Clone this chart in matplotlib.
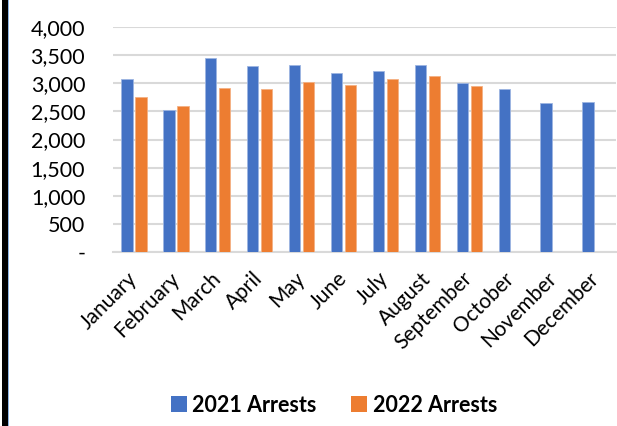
import matplotlib
matplotlib.use("Agg")
import matplotlib.pyplot as plt
from matplotlib.patches import Rectangle
import numpy as np

months = ["January", "February", "March", "April", "May", "June", "July",
          "August", "September", "October", "November", "December"]
arrests_2021 = [3070, 2525, 3443, 3301, 3319, 3188, 3212, 3325, 2999, 2892, 2655, 2667]
arrests_2022 = [2756, 2590, 2921, 2898, 3022, 2963, 3082, 3123, 2951]
y_ticks = [0, 500, 1000, 1500, 2000, 2500, 3000, 3500, 4000]
y_tick_labels = ["-", "500", "1,000", "1,500", "2,000", "2,500", "3,000", "3,500", "4,000"]
series_names = ["2021 Arrests", "2022 Arrests"]

BLUE = "#4472C4"
ORANGE = "#ED7D31"
FONT = "Lato"

W, H = 617, 426
fig = plt.figure(figsize=(W / 100, H / 100), dpi=100)
fig.patch.set_facecolor("white")
ax = fig.add_axes([113 / W, 1 - 252 / H, (616 - 113) / W, (252 - 27) / H])

x = np.arange(len(months))
bw = 0.27
off = 0.167
b1 = ax.bar(x - off, arrests_2021, width=bw, color=BLUE, edgecolor="#9DB5E2", linewidth=0.6, zorder=3)
x2 = np.arange(len(arrests_2022))
b2 = ax.bar(x2 + off, arrests_2022, width=bw, color=ORANGE, edgecolor="#F4B183", linewidth=0.6, zorder=3)

ax.set_xlim(-0.5, len(months) - 0.5)
ax.set_ylim(0, 4000)
ax.set_yticks(y_ticks)
ax.set_yticklabels(y_tick_labels, fontsize=15.5, family=FONT, color="#000000")
ax.set_xticks(x)
ax.set_xticklabels(months, rotation=45, ha="right", va="center", rotation_mode="anchor",
                   fontsize=15, family=FONT, color="#000000")
ax.tick_params(axis="y", length=0, pad=20)
ax.tick_params(axis="x", length=0, pad=17)

ax.grid(axis="y", color="#D9D9D9", linewidth=1.5, zorder=0)
for s in ["left", "right", "top"]:
    ax.spines[s].set_visible(False)
ax.spines["bottom"].set_color("#D9D9D9")
ax.spines["bottom"].set_linewidth(1.5)
ax.set_facecolor("white")

leg = fig.legend([b1, b2], series_names, loc="center", bbox_to_anchor=(334 / W, 1 - 405 / H),
                 ncol=2, frameon=False, prop={"family": FONT, "weight": "bold", "size": 15.5},
                 handlelength=0.75, handleheight=0.75, handletextpad=0.25, columnspacing=1.6)
for p in leg.get_patches():
    p.set_edgecolor("none")

# left border decoration
fig.add_artist(Rectangle((1.5 / W, 0), 6 / W, 1, transform=fig.transFigure, color="#000000", lw=0))
fig.add_artist(Rectangle((7.5 / W, 0), 1.5 / W, 1, transform=fig.transFigure, color="#8EB4E3", lw=0))

fig.savefig("out.png", dpi=100, facecolor="white")
